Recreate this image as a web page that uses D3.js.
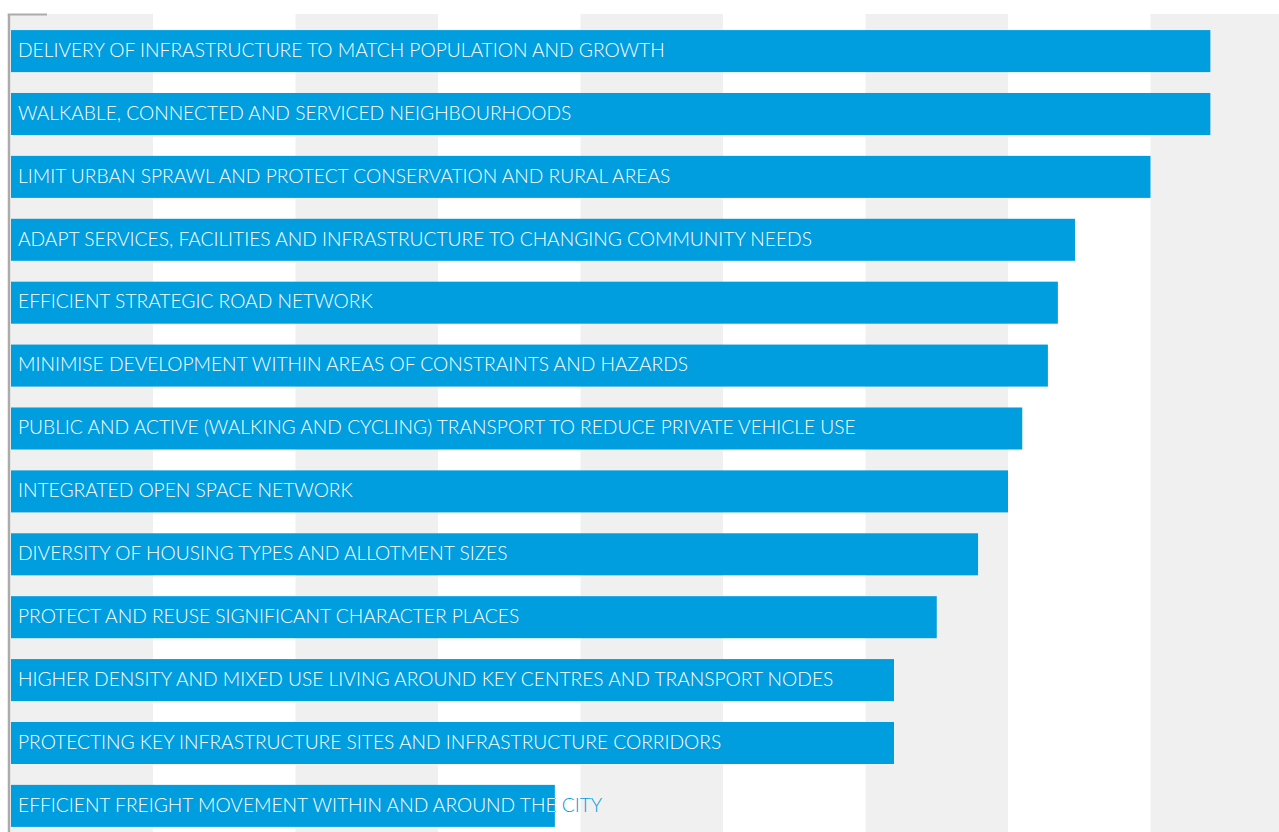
<!DOCTYPE html>
<html>
<head>
<meta charset="utf-8">
<script src="https://cdn.jsdelivr.net/npm/d3@7"></script>
<style>
html,body{margin:0;padding:0;background:#fff;}
svg{display:block;}
</style>
</head>
<body>
<svg id="chart" width="1279" height="832"></svg>
<script>
const categories = [
  "DELIVERY OF INFRASTRUCTURE TO MATCH POPULATION AND GROWTH",
  "WALKABLE, CONNECTED AND SERVICED NEIGHBOURHOODS",
  "LIMIT URBAN SPRAWL AND PROTECT CONSERVATION AND RURAL AREAS",
  "ADAPT SERVICES, FACILITIES AND INFRASTRUCTURE TO CHANGING COMMUNITY NEEDS",
  "EFFICIENT STRATEGIC ROAD NETWORK",
  "MINIMISE DEVELOPMENT WITHIN AREAS OF CONSTRAINTS AND HAZARDS",
  "PUBLIC AND ACTIVE (WALKING AND CYCLING) TRANSPORT TO REDUCE PRIVATE VEHICLE USE",
  "INTEGRATED OPEN SPACE NETWORK",
  "DIVERSITY OF HOUSING TYPES AND ALLOTMENT SIZES",
  "PROTECT AND REUSE SIGNIFICANT CHARACTER PLACES",
  "HIGHER DENSITY AND MIXED USE LIVING AROUND KEY CENTRES AND TRANSPORT NODES",
  "PROTECTING KEY INFRASTRUCTURE SITES AND INFRASTRUCTURE CORRIDORS",
  "EFFICIENT FREIGHT MOVEMENT WITHIN AND AROUND THE CITY"
];
const values = [84.2, 84.2, 80.0, 74.7, 73.5, 72.8, 71.0, 70.0, 67.9, 65.0, 62.0, 62.0, 38.2];
const tickValues = [0, 10, 20, 30, 40, 50, 60, 70, 80, 90];

(function () {
const svg = d3.select("#chart");
const W = 1279, H = 832;
const mLeft = 10.5, mTop = 14;

const x = d3.scaleLinear().domain([0, 90]).range([mLeft, mLeft + 9 * 142.5]);
const y = d3.scaleBand().domain(categories).range([mTop, mTop + 13 * 62.9])
  .paddingInner(0.332).paddingOuter(0.166).align(0.77);

// alternating background bands
const bands = tickValues.slice(0, -1).map((t, i) => ({ a: t, b: tickValues[i + 1], i }));
svg.append("g").selectAll("rect").data(bands).join("rect")
  .attr("x", d => x(d.a))
  .attr("width", d => x(d.b) - x(d.a))
  .attr("y", mTop)
  .attr("height", H - mTop)
  .attr("fill", d => d.i % 2 === 0 ? "#f0f0f0" : "#ffffff");

const barColor = "#009ddf";
const defs = svg.append("defs");
const data = categories.map((c, i) => ({ c, v: values[i], i }));

defs.selectAll("clipPath").data(data).join("clipPath")
  .attr("id", d => "clip" + d.i)
  .append("rect")
  .attr("x", x(0))
  .attr("y", d => y(d.c))
  .attr("width", d => x(d.v) - x(0))
  .attr("height", y.bandwidth());

const g = svg.append("g");
g.selectAll("rect.bar").data(data).join("rect")
  .attr("class", "bar")
  .attr("x", x(0) + 0.5)
  .attr("y", d => y(d.c))
  .attr("width", d => x(d.v) - x(0) - 0.5)
  .attr("height", y.bandwidth())
  .attr("fill", barColor);

const fontStyle = sel => sel
  .attr("x", 18)
  .attr("y", d => y(d.c) + y.bandwidth() / 2 - 1)
  .attr("dy", "0.35em")
  .attr("font-family", "Lato, 'Open Sans', sans-serif")
  .attr("font-weight", 300)
  .attr("font-size", 19.2)
  .text(d => d.c);

g.selectAll("text.out").data(data).join("text")
  .attr("class", "out").call(fontStyle).attr("fill", barColor);
g.selectAll("text.in").data(data).join("text")
  .attr("class", "in").call(fontStyle).attr("fill", "#ffffff")
  .attr("clip-path", d => "url(#clip" + d.i + ")");

// y axis (left line) with top tick
const yAxis = d3.axisLeft(y).tickValues([]).tickSizeOuter(0);
const ax = svg.append("g").attr("transform", `translate(${mLeft - 1.5},0)`).call(yAxis);
ax.select(".domain").attr("stroke", "#ababab").attr("stroke-width", 2.5)
  .attr("d", `M0,${mTop}V${H}`);
svg.append("line")
  .attr("x1", mLeft - 2.7).attr("x2", 47)
  .attr("y1", mTop + 0.5).attr("y2", mTop + 0.5)
  .attr("stroke", "#ababab").attr("stroke-width", 2);
})();
</script>
</body>
</html>
